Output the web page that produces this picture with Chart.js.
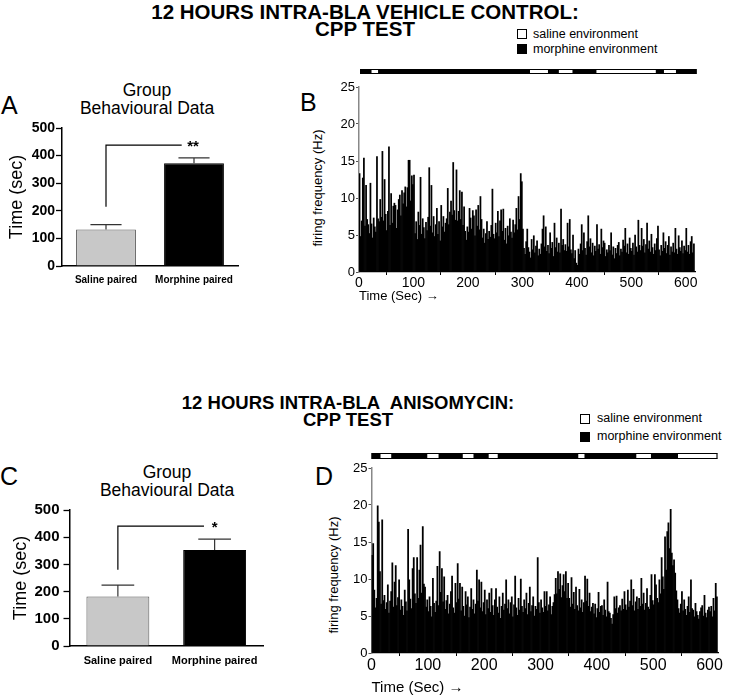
<!DOCTYPE html>
<html>
<head>
<meta charset="utf-8">
<title>CPP test firing</title>
<script src="https://cdn.jsdelivr.net/npm/chart.js@4.4.1/dist/chart.umd.min.js"></script>
<style>
  body { margin: 0; background: #fff; }
  #page { position: relative; width: 729px; height: 698px; overflow: hidden; font-family: "Liberation Sans", Arial, sans-serif; color: #000; }
  .t { position: absolute; white-space: nowrap; }
  .title { font-weight: bold; line-height: 17px; text-align: center; width: 460px; }
  .group { font-size: 17.5px; line-height: 18px; text-align: center; width: 200px; }
  .letter { font-size: 25px; line-height: 25px; }
  .leg { font-size: 12.5px; line-height: 14px; }
  .box { position: absolute; width: 8px; height: 8px; border: 1px solid #000; }
  .rot { position: absolute; white-space: nowrap; font-size: 13px; transform: translate(-50%, -50%) rotate(-90deg); }
  canvas { position: absolute; }
</style>
</head>
<body>
<div id="page">
  <div class="t title" style="left:135px;top:3px;font-size:20.5px">12 HOURS INTRA-BLA VEHICLE CONTROL:<br>CPP TEST</div>
  <div class="box" style="left:517px;top:29px;background:#fff"></div>
  <div class="t leg" style="left:533px;top:27px">saline environment</div>
  <div class="box" style="left:517px;top:44px;background:#000"></div>
  <div class="t leg" style="left:533px;top:42px">morphine environment</div>

  <div class="t letter" style="left:1px;top:93px">A</div>
  <div class="t group" style="left:47px;top:81px">Group<br>Behavioural Data</div>
  <div class="t letter" style="left:300px;top:90px">B</div>
  <div class="rot" style="left:317px;top:188px">firing frequency (Hz)</div>

  <div class="t title" style="left:118px;top:394px;font-size:18.5px">12 HOURS INTRA-BLA&nbsp; ANISOMYCIN:<br>CPP TEST</div>
  <div class="box" style="left:580px;top:414px;background:#fff"></div>
  <div class="t leg" style="left:597px;top:411px">saline environment</div>
  <div class="box" style="left:580px;top:432px;background:#000"></div>
  <div class="t leg" style="left:597px;top:429px">morphine environment</div>

  <div class="t letter" style="left:0px;top:464px">C</div>
  <div class="t group" style="left:67px;top:463px">Group<br>Behavioural Data</div>
  <div class="t letter" style="left:315px;top:464px">D</div>
  <div class="rot" style="left:333px;top:575px">firing frequency (Hz)</div>

  <canvas id="chartA" width="250" height="185" style="left:0px;top:115px"></canvas>
  <canvas id="chartB" width="430" height="250" style="left:290px;top:62px"></canvas>
  <canvas id="chartC" width="275" height="200" style="left:0px;top:495px"></canvas>
  <canvas id="chartD" width="429" height="253" style="left:300px;top:445px"></canvas>
</div>
<script>
// behavioural data (time spent, sec)
const groupLabels = ['Saline paired', 'Morphine paired'];
const vehicleMean = [132, 372];
const vehicleSem = [18, 20];
const anisoMean = [182, 353];
const anisoSem = [42, 40];
const timeSecTicks = [0, 100, 200, 300, 400, 500];

// firing frequency, 2 s bins
const binSec = 2;
const firingTicks = [0, 5, 10, 15, 20, 25];
const timeTicks = [0, 100, 200, 300, 400, 500, 600];

const vehicleRate = [
  13.3, 4.8, 6.9, 12.7, 15.4, 6.2, 11.7, 7.1, 6.4, 5.2,
  12.0, 6.5, 4.6, 7.3, 6.1, 5.4, 15.6, 7.2, 6.8, 9.8,
  7.4, 16.3, 6.9, 12.5, 7.8, 5.6, 8.2, 16.9, 6.3, 10.6,
  6.6, 8.9, 9.3, 9.0, 5.9, 8.4, 9.8, 10.4, 7.6, 11.0,
  9.2, 10.7, 11.5, 8.8, 11.4, 15.1, 15.1, 9.6, 13.0, 11.8,
  13.1, 5.2, 6.8, 4.4, 8.1, 6.3, 12.8, 5.1, 7.2, 6.0,
  4.5, 6.7, 5.6, 7.4, 14.1, 6.2, 11.7, 5.3, 7.5, 4.8,
  6.4, 8.6, 5.1, 6.8, 4.2, 9.0, 6.1, 7.5, 5.4, 6.6,
  7.2, 11.3, 6.4, 8.1, 9.6, 7.7, 14.8, 8.3, 7.0, 13.8,
  6.9, 8.2, 11.0, 7.1, 10.8, 6.3, 8.8, 5.5, 4.3, 6.1,
  5.4, 8.6, 7.3, 5.8, 8.3, 7.6, 4.9, 8.4, 6.2, 9.0,
  5.7, 10.2, 7.1, 4.6, 5.8, 3.9, 5.2, 6.8, 4.4, 5.5,
  4.7, 6.3, 11.2, 5.1, 4.5, 6.6, 5.3, 8.2, 4.8, 6.9,
  8.4, 5.5, 8.5, 4.3, 5.9, 3.8, 6.2, 4.9, 7.2, 5.4,
  4.6, 7.0, 5.3, 6.4, 8.6, 5.7, 10.2, 7.1, 13.3, 12.2,
  5.8, 3.2, 2.4, 4.1, 5.8, 3.3, 2.7, 1.9, 4.4, 3.0,
  4.9, 2.6, 3.5, 4.2, 2.2, 3.1, 2.4, 3.8, 5.8, 7.6,
  3.4, 6.1, 2.8, 3.6, 2.5, 5.3, 3.2, 4.0, 2.1, 6.6,
  3.3, 4.6, 2.7, 3.9, 2.6, 8.5, 3.6, 4.4, 2.9, 3.7,
  2.8, 6.6, 3.4, 7.1, 3.0, 2.5, 5.0, 1.8, 2.9, 1.2,
  0.9, 3.1, 2.4, 3.8, 6.4, 2.9, 5.3, 3.2, 2.3, 4.1,
  7.6, 3.4, 4.5, 2.6, 3.9, 2.2, 3.5, 2.8, 6.4, 3.1,
  3.7, 2.4, 5.8, 3.3, 4.2, 3.9, 2.1, 3.0, 2.6, 3.6,
  2.9, 5.3, 2.3, 3.4, 1.8, 3.2, 2.5, 3.6, 4.0, 2.2,
  3.1, 2.7, 4.3, 3.5, 5.9, 2.6, 3.8, 2.4, 4.6, 3.2,
  2.8, 3.9, 2.3, 5.0, 3.4, 2.7, 7.0, 3.6, 2.9, 5.9,
  3.5, 4.4, 2.6, 3.7, 6.6, 3.1, 4.2, 2.7, 5.1, 3.3,
  2.4, 3.8, 2.9, 4.5, 6.2, 3.0, 2.2, 3.6, 2.8, 5.3,
  3.2, 4.1, 2.5, 3.6, 4.8, 2.3, 3.4, 2.7, 3.9, 2.6,
  5.9, 3.1, 2.4, 4.9, 3.3, 2.8, 4.2, 2.5, 3.5, 2.9,
  5.9, 2.7, 3.6, 2.4, 4.1, 4.8, 2.6, 3.8
];

const anisoRate = [
  13.2, 14.8, 8.5, 6.1, 7.4, 19.9, 17.7, 11.0, 6.6, 18.0,
  7.1, 7.8, 5.9, 6.8, 9.2, 5.4, 7.0, 8.3, 12.2, 6.2,
  9.6, 11.8, 6.4, 7.5, 9.9, 5.8, 7.2, 6.3, 5.1, 8.5,
  6.9, 5.7, 16.7, 9.9, 7.3, 6.0, 11.4, 12.9, 8.0, 6.7,
  12.9, 7.4, 11.2, 14.6, 8.1, 17.1, 9.3, 8.9, 6.2, 7.2,
  5.6, 7.6, 6.3, 4.9, 10.1, 6.7, 5.5, 7.0, 11.7, 6.4,
  13.7, 8.2, 11.4, 6.9, 10.3, 5.9, 7.1, 7.8, 5.3, 6.6,
  8.3, 10.4, 6.1, 5.4, 9.4, 6.8, 12.1, 7.3, 9.4, 5.7,
  8.9, 6.3, 5.0, 8.3, 6.5, 7.6, 4.8, 6.2, 8.7, 5.9,
  7.2, 5.3, 6.6, 11.2, 7.0, 9.9, 6.1, 9.6, 5.6, 6.8,
  8.5, 5.2, 7.2, 6.0, 8.1, 5.5, 8.7, 6.4, 5.1, 7.2,
  8.7, 6.2, 5.4, 7.6, 4.7, 6.3, 8.1, 5.8, 6.6, 9.9,
  6.0, 7.2, 5.3, 6.8, 7.6, 4.9, 6.5, 10.4, 6.1, 5.1,
  7.4, 5.8, 10.0, 6.3, 5.5, 7.2, 6.0, 8.1, 5.2, 6.7,
  8.9, 5.6, 6.4, 7.6, 5.0, 6.3, 5.9, 12.9, 6.8, 5.4,
  7.2, 6.1, 5.5, 8.3, 6.3, 8.3, 5.7, 6.5, 7.6, 5.2,
  6.3, 6.8, 7.9, 10.1, 8.0, 11.0, 8.6, 10.7, 7.5, 9.1,
  10.6, 8.3, 11.0, 7.4, 9.4, 7.4, 6.2, 10.2, 6.6, 8.2,
  5.9, 8.9, 6.4, 5.7, 8.6, 6.1, 7.2, 5.5, 6.8, 10.4,
  7.0, 10.0, 6.3, 8.1, 5.6, 6.2, 6.7, 5.3, 6.6, 4.8,
  6.0, 8.2, 5.5, 6.3, 6.4, 5.1, 7.2, 5.8, 4.9, 9.6,
  5.6, 5.4, 4.7, 3.9, 5.2, 7.6, 6.0, 7.7, 5.4, 6.1,
  6.4, 5.7, 7.3, 5.9, 8.3, 6.5, 5.8, 8.5, 6.2, 7.0,
  9.9, 6.4, 8.6, 5.7, 6.9, 7.6, 5.9, 7.4, 6.3, 10.1,
  6.6, 8.1, 5.8, 6.7, 8.7, 6.2, 5.9, 7.8, 10.6, 7.1,
  6.5, 10.6, 9.2, 7.4, 6.8, 9.9, 8.0, 12.9, 10.3, 8.6,
  15.7, 11.2, 16.4, 17.6, 14.1, 19.4, 13.5, 11.8, 12.6, 10.8,
  8.4, 7.2, 6.0, 5.4, 6.6, 8.3, 5.7, 7.2, 5.9, 5.1,
  6.3, 7.6, 5.5, 9.9, 6.0, 5.8, 4.9, 6.7, 5.6, 5.1,
  4.6, 5.6, 6.1, 6.4, 5.0, 7.8, 5.4, 4.8, 5.8, 6.2,
  5.6, 6.3, 4.9, 7.4, 5.7, 9.4, 7.6
];

// environment the animal was in (sec); everything else in the span is morphine side
const vehicleSpan = [2, 620];
const vehicleSaline = [[23, 35], [314, 347], [367, 392], [436, 545], [560, 582]];
const anisoSpan = [0, 614];
const anisoSaline = [[16, 35], [99, 119], [162, 181], [208, 224], [367, 378], [470, 496], [544, 614]];

const FONT = '"Liberation Sans", Arial, sans-serif';
Chart.defaults.font.family = FONT;
Chart.defaults.color = '#000';

const errorBars = {
  id: 'errorBars',
  afterDatasetsDraw(chart, args, o) {
    const {ctx, scales: {x, y}} = chart;
    const means = chart.data.datasets[0].data;
    ctx.save();
    ctx.strokeStyle = '#333';
    ctx.lineWidth = 1.2;
    chart.getDatasetMeta(0).data.forEach((bar, i) => {
      const top = y.getPixelForValue(means[i] + o.sems[i]);
      const half = bar.width * 0.26;
      ctx.beginPath();
      ctx.moveTo(bar.x, bar.y);
      ctx.lineTo(bar.x, top);
      ctx.moveTo(bar.x - half, top);
      ctx.lineTo(bar.x + half, top);
      ctx.stroke();
    });
    // significance bracket
    const b = o.bracket;
    ctx.strokeStyle = '#000';
    ctx.beginPath();
    ctx.moveTo(x.getPixelForValue(0), y.getPixelForValue(b.from));
    ctx.lineTo(x.getPixelForValue(0), y.getPixelForValue(b.top));
    ctx.lineTo(x.getPixelForValue(b.end), y.getPixelForValue(b.top));
    ctx.stroke();
    ctx.fillStyle = '#000';
    ctx.font = 'bold 15px ' + FONT;
    ctx.textAlign = 'center';
    ctx.textBaseline = 'middle';
    ctx.fillText(b.mark, x.getPixelForValue(b.markAt), y.getPixelForValue(b.markY));
    ctx.restore();
  }
};

const envBar = {
  id: 'envBar',
  afterDraw(chart, args, o) {
    const {ctx} = chart;
    const x = chart.scales.x;
    const top = chart.chartArea.top - o.offset;
    const x0 = x.getPixelForValue(o.span[0]);
    const x1 = x.getPixelForValue(o.span[1]);
    ctx.save();
    ctx.fillStyle = '#000';
    ctx.fillRect(x0, top, x1 - x0, o.height);
    ctx.fillStyle = '#fff';
    o.saline.forEach(([a, b]) => {
      const p = x.getPixelForValue(a), q = x.getPixelForValue(b);
      ctx.fillRect(p, top + 1, q - p, o.height - 2);
    });
    ctx.strokeStyle = '#000';
    ctx.lineWidth = 1;
    ctx.strokeRect(x0 + 0.5, top + 0.5, x1 - x0 - 1, o.height - 1);
    ctx.restore();
  }
};

function behavChart(id, means, sems, g) {
  return new Chart(document.getElementById(id), {
    type: 'bar',
    data: {
      labels: groupLabels,
      datasets: [{
        data: means,
        backgroundColor: ['#c8c8c8', '#000'],
        borderColor: ['#555', '#000'],
        borderWidth: 1,
        barPercentage: g.barPct,
        categoryPercentage: 1
      }]
    },
    options: {
      responsive: false,
      animation: false,
      layout: { padding: { top: g.padTop, right: g.padRight } },
      plugins: {
        legend: { display: false },
        tooltip: { enabled: false },
        errorBars: { sems: sems, bracket: g.bracket }
      },
      scales: {
        x: {
          grid: { display: false, drawTicks: false },
          border: { color: '#000', width: 1.5 },
          ticks: { font: { size: g.catSize, weight: 'bold' }, padding: 8 },
          afterFit(s) { s.height = g.xHeight; }
        },
        y: {
          min: 0, max: 500,
          afterBuildTicks(s) { s.ticks = timeSecTicks.map(v => ({ value: v })); },
          grid: { drawOnChartArea: false, tickLength: 6, color: '#000', tickWidth: 1.3 },
          border: { color: '#000', width: 1.5 },
          ticks: { font: { size: g.tickSize, weight: 'bold' }, padding: g.tickPad },
          title: { display: true, text: 'Time (sec)', font: { size: 18 }, padding: { top: g.titlePad, bottom: 0 } },
          afterFit(s) { s.width = g.yWidth; }
        }
      }
    },
    plugins: [errorBars]
  });
}

function firingChart(id, rates, saline, span, g) {
  const pts = rates.map((v, i) => ({ x: i * binSec + binSec / 2, y: v }));
  return new Chart(document.getElementById(id), {
    type: 'bar',
    data: {
      datasets: [{
        data: pts,
        backgroundColor: '#000',
        borderWidth: 0,
        barPercentage: 1,
        categoryPercentage: 1
      }]
    },
    options: {
      responsive: false,
      animation: false,
      layout: { padding: { top: g.padTop, right: g.padRight } },
      plugins: {
        legend: { display: false },
        tooltip: { enabled: false },
        envBar: { saline: saline, span: span, offset: g.envOffset, height: g.envHeight }
      },
      scales: {
        x: {
          type: 'linear',
          offset: false,
          min: 0, max: g.maxT,
          afterBuildTicks(s) { s.ticks = timeTicks.map(v => ({ value: v })); },
          grid: { drawOnChartArea: false, tickLength: 3, color: '#000' },
          border: { color: '#000', width: 1.2 },
          ticks: { font: { size: g.xTickSize }, padding: 0, maxRotation: 0 },
          title: { display: true, text: 'Time (Sec) \u2192', align: 'start', font: { size: g.xTitleSize }, padding: { top: 0, bottom: g.xTitlePad } },
          afterFit(s) { s.height = g.xHeight; }
        },
        y: {
          min: 0, max: 25,
          afterBuildTicks(s) { s.ticks = firingTicks.map(v => ({ value: v })); },
          grid: { drawOnChartArea: false, tickLength: 3, color: '#555' },
          border: { color: '#888', width: 1.5 },
          ticks: { font: { size: 13 }, padding: 1 },
          afterFit(s) { s.width = g.yWidth; }
        }
      }
    },
    plugins: [envBar]
  });
}

behavChart('chartA', vehicleMean, vehicleSem, {
  padTop: 13, padRight: 12, yWidth: 62, xHeight: 34, barPct: 0.68,
  catSize: 10, tickSize: 14, tickPad: 1, titlePad: 6,
  bracket: { from: 215, top: 438, end: 0.86, mark: '**', markAt: 0.99, markY: 432 }
});

behavChart('chartC', anisoMean, anisoSem, {
  padTop: 15, padRight: 12, yWidth: 69.5, xHeight: 49, barPct: 0.65,
  catSize: 11, tickSize: 15, tickPad: 4, titlePad: 10,
  bracket: { from: 280, top: 441, end: 0.89, mark: '*', markAt: 1.0, markY: 433 }
});

firingChart('chartB', vehicleRate, vehicleSaline, vehicleSpan, {
  padTop: 25, padRight: 25, yWidth: 69, xHeight: 40, maxT: 617,
  envOffset: 18, envHeight: 5, xTickSize: 14, xTitleSize: 13, xTitlePad: 8
});

firingChart('chartD', anisoRate, anisoSaline, anisoSpan, {
  padTop: 23, padRight: 11, yWidth: 71.5, xHeight: 45, maxT: 615,
  envOffset: 15, envHeight: 6, xTickSize: 16, xTitleSize: 15, xTitlePad: 1
});
</script>
</body>
</html>
